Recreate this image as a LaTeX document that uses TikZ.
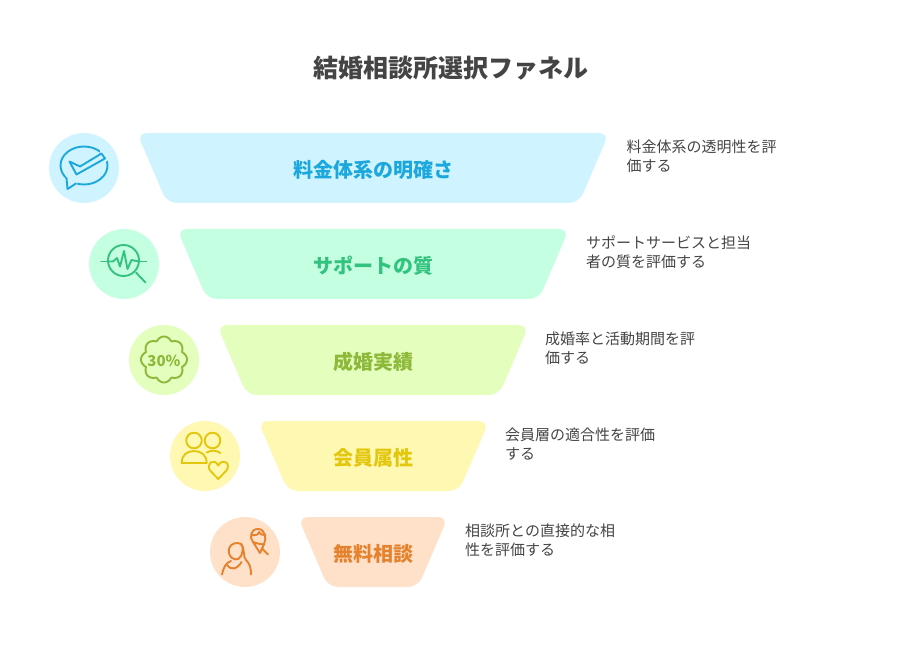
\documentclass[tikz,border=0pt]{standalone}
\usepackage{fontspec}
\usepackage{xcolor}
\setmainfont{Noto Sans CJK JP}
\definecolor{feefill}{HTML}{D0F4FF}
\definecolor{feeline}{HTML}{1CA8DD}
\definecolor{suppfill}{HTML}{C5FFE2}
\definecolor{suppline}{HTML}{34C27F}
\definecolor{recfill}{HTML}{E4FFBD}
\definecolor{recline}{HTML}{8DB83A}
\definecolor{membfill}{HTML}{FFF8B3}
\definecolor{membline}{HTML}{E3C70F}
\definecolor{freefill}{HTML}{FFE1CA}
\definecolor{freeline}{HTML}{E5822E}
\definecolor{inktext}{HTML}{444444}
\tikzset{
    band/.style={rounded corners=10pt},
    bandlabel/.style={font=\fontsize{20}{24}\selectfont\bfseries},
    icondisc/.style={circle, minimum size=70pt, inner sep=0pt},
    iconline/.style={line width=1.9pt, line cap=round, line join=round},
    desc/.style={anchor=north west, align=left, inner sep=0pt, text=inktext, font=\fontsize{15}{18.5}\selectfont},
}
\begin{document}
\begin{tikzpicture}[x=1pt, y=-1pt]
        \useasboundingbox (0,0) rectangle (900,660);
        \node[font=\fontsize{25}{30}\selectfont\bfseries, text=inktext] (title) at (450.5,68) {結婚相談所選択ファネル};

        \fill[band, feefill] (137,133) -- (609,133) -- (579,203) -- (167,203) -- cycle;
        \fill[band, suppfill] (177,229) -- (569,229) -- (539,299) -- (207,299) -- cycle;
        \fill[band, recfill] (217,325) -- (529,325) -- (499,395) -- (247,395) -- cycle;
        \fill[band, membfill] (258,421) -- (489,421) -- (459,491) -- (288,491) -- cycle;
        \fill[band, freefill] (298,517) -- (448,517) -- (418,587) -- (328,587) -- cycle;

        \node[bandlabel, text=feeline] (feelabel) at (373,170) {料金体系の明確さ};
        \node[bandlabel, text=suppline] (supplabel) at (373,266) {サポートの質};
        \node[bandlabel, text=recline] (reclabel) at (373,362) {成婚実績};
        \node[bandlabel, text=membline] (memblabel) at (373,458) {会員属性};
        \node[bandlabel, text=freeline] (freelabel) at (373,554) {無料相談};

        \node[desc] (feedesc) at (626.5,140) {料金体系の透明性を評\\価する};
        \node[desc] (suppdesc) at (586,236) {サポートサービスと担当\\者の質を評価する};
        \node[desc] (recdesc) at (545,332) {成婚率と活動期間を評\\価する};
        \node[desc] (membdesc) at (505,428) {会員層の適合性を評価\\する};
        \node[desc] (freedesc) at (465,524) {相談所との直接的な相\\性を評価する};

        \node[icondisc, fill=feefill] (feedisc) at (84,168) {};
        \node[icondisc, fill=suppfill] (suppdisc) at (124,264) {};
        \node[icondisc, fill=recfill] (recdisc) at (164,360) {};
        \node[icondisc, fill=membfill] (membdisc) at (205,456) {};
        \node[icondisc, fill=freefill] (freedisc) at (245,552) {};

        % speech bubble
        \draw[iconline, feeline] (84,165.5) ellipse (23.5 and 19);
        \fill[feefill] (66,176) -- (78,180) -- (76,188) -- (66,188) -- cycle;
        \draw[iconline, feeline] (66.5,178) -- (67.5,189) -- (76,183.5);
        \fill[feefill] (100,148) -- (110,158) -- (106,162) -- (100,160) -- cycle;
        \draw[iconline, feeline, fill=feefill] (69.5,161.5) -- (80,166.5) -- (101.5,153.5) -- (105,158.5) -- (76.5,174.5) -- cycle;

        % magnifier
        \draw[iconline, suppline] (123.5,260.5) circle (15.5);
        \draw[iconline, suppline] (101,261.5) -- (108,261.5);
        \draw[iconline, suppline] (139,261.5) -- (146.5,261.5);
        \draw[iconline, suppline] (108,261.5) -- (113,261.5) -- (117,258) -- (120,266.5) -- (124,251) -- (127.5,269) -- (131.5,260) -- (139,261.5);
        \draw[iconline, suppline] (136,272.5) -- (145.5,282.5);

        % badge
        \draw[iconline, recline, shift={(164,359.5)}] plot[smooth, domain=0:360, samples=145] (\x:{19.5+3.5*abs(cos(4*\x))});
        \node[text=recline, font=\fontsize{15}{18}\selectfont\bfseries, inner sep=0pt] (recbadge) at (164,360.5) {30\%};

        % two members and heart
        \draw[iconline, membline] (194,440.5) circle (7.8);
        \draw[iconline, membline] (212.5,440.5) circle (7.8);
        \draw[iconline, membline] (181.7,463) .. controls (181.7,455) and (187,451) .. (194,451) .. controls (201,451) and (206.7,455) .. (206.7,463) -- cycle;
        \draw[iconline, membline] (206.7,452.5) .. controls (211,450) and (216,450) .. (220.5,453);
        \draw[iconline, membline] (218.3,479) -- (210.5,471) .. controls (205,464) and (214,457) .. (218.3,465.5) .. controls (223,457) and (232,464) .. (226,471) -- cycle;

        % two faces
        \draw[iconline, freeline] (229,553) .. controls (228,545) and (233,543) .. (238,543) .. controls (243,543) and (244,549) .. (241,556) .. controls (239,561) and (231,561) .. (229,553);
        \draw[iconline, freeline] (241,543.5) .. controls (245,548) and (243,558) .. (246,560) .. controls (250,564) and (251,568) .. (251,574.5);
        \draw[iconline, freeline] (222,574.5) .. controls (224,566) and (226,563) .. (231,561);
        \draw[iconline, freeline] (227,565) .. controls (230,570) and (237,570) .. (241.5,562);
        \draw[iconline, freeline] (253,542) .. controls (249,537) and (251,529) .. (258,529) .. controls (265,529) and (267,538) .. (264,544);
        \draw[iconline, freeline] (251.5,535) .. controls (256,536) and (259,534) .. (259,532) .. controls (261,535) and (263,535) .. (265.5,535);
        \draw[iconline, freeline] (253,542) -- (257.5,543.5) -- (264,544.5) -- (260,553) -- cycle;
        \draw[iconline, freeline] (261.5,548) -- (268,554.5);
    \end{tikzpicture}
\end{document}
